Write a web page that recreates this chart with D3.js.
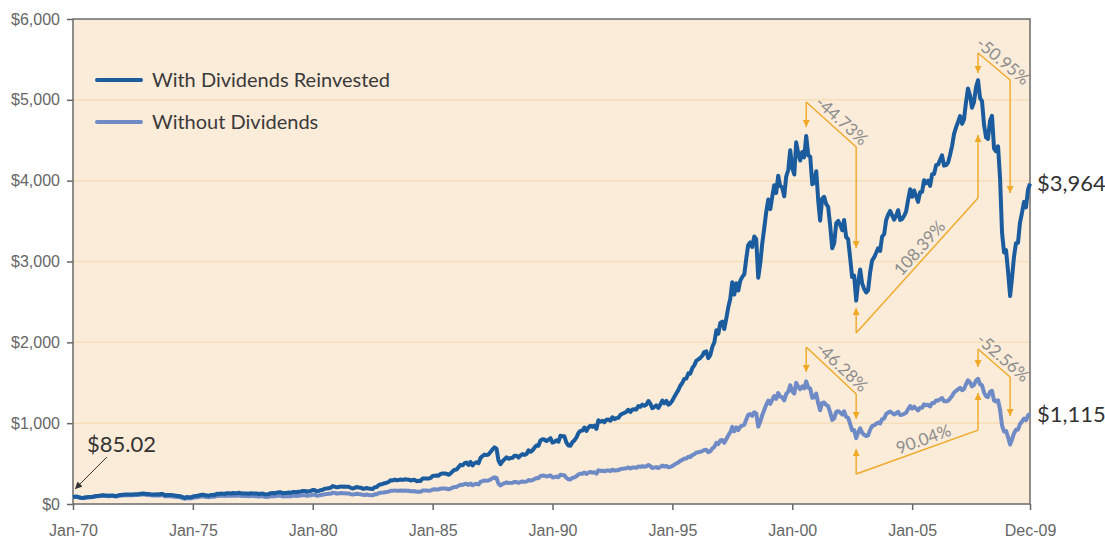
<!DOCTYPE html>
<html>
<head>
<meta charset="utf-8">
<script src="https://cdn.jsdelivr.net/npm/d3@7"></script>
<style>
  body { margin: 0; background: #fff; }
  svg { display: block; font-family: Lato, "Open Sans", sans-serif; }
  .tick text { fill: #666; font-size: 16px; }
  .tick line { stroke: #666; stroke-width: 1.5; }
</style>
</head>
<body>
<div id="chart"></div>
<script>
// month-end values, Jan-70 .. Dec-09
const withoutDividends = [
  85.02,89.50,89.63,81.52,76.55,72.72,78.05,81.52,84.21,83.25,87.20,92.15,
  95.88,96.75,100.31,103.95,99.63,99.70,95.58,99.03,98.34,94.23,93.99,102.09,
  103.94,106.57,107.20,107.67,109.53,107.14,107.39,111.09,110.55,111.58,116.67,118.05,
  116.03,111.68,111.52,106.97,104.95,104.26,108.22,104.25,108.43,108.29,95.96,97.55,
  96.57,96.22,93.98,90.31,87.28,86.00,79.31,72.15,63.54,73.90,69.97,68.56,
  76.98,81.59,83.36,87.30,91.15,95.19,88.75,86.88,83.87,89.04,91.24,90.19,
  100.86,99.71,102.77,101.64,100.18,104.28,103.44,102.91,105.24,102.90,102.10,107.46,
  102.03,99.82,98.42,98.44,96.12,100.48,98.85,96.77,96.53,92.34,94.83,95.10,
  89.25,87.04,89.21,96.83,97.24,95.53,100.68,103.29,102.54,93.15,94.70,96.11,
  99.93,96.28,101.59,101.76,99.08,102.91,103.81,109.32,109.32,101.82,106.16,107.94,
  114.16,113.66,102.09,106.29,111.24,114.24,121.67,122.38,125.46,127.47,140.52,135.76,
  129.55,131.27,136.00,132.81,132.59,131.21,130.92,122.79,116.18,121.89,126.35,122.55,
  120.40,113.11,111.96,116.44,111.88,109.61,107.09,119.51,120.42,133.71,138.54,140.64,
  145.30,148.06,152.96,164.42,162.39,168.11,162.56,164.40,166.07,163.55,166.40,164.93,
  163.41,157.06,159.18,160.05,150.55,153.18,150.66,166.68,166.10,166.09,163.58,167.24,
  179.63,181.18,180.66,179.83,189.55,191.85,190.92,188.63,182.08,189.82,202.17,211.28,
  211.78,226.92,238.90,235.52,247.35,250.84,236.12,252.93,231.32,243.98,249.22,242.17,
  274.08,284.20,291.70,288.36,290.10,304.00,318.66,329.80,321.83,251.79,230.30,247.08,
  257.07,267.82,258.89,261.33,262.16,273.50,272.02,261.52,271.91,278.97,273.70,277.72,
  297.47,288.86,294.87,309.64,320.52,317.98,346.08,351.45,349.15,340.36,345.99,353.40,
  329.08,331.89,339.94,330.80,361.23,358.02,356.15,322.56,306.05,304.00,322.22,330.22,
  343.93,367.07,375.22,375.35,389.83,371.16,387.81,395.43,387.86,392.46,375.22,417.09,
  408.79,412.70,403.69,414.95,415.35,408.14,424.21,414.03,417.80,418.68,431.35,435.71,
  438.78,443.38,451.67,440.19,450.19,450.53,448.13,463.56,458.93,467.83,461.79,466.45,
  481.61,467.14,445.77,450.91,456.50,444.27,458.26,475.49,462.69,472.35,453.69,459.27,
  470.42,487.39,500.71,514.71,533.40,544.75,562.06,561.88,584.41,581.50,605.37,615.93,
  636.02,640.43,645.50,654.17,669.12,670.63,639.95,651.99,687.31,705.27,757.02,740.74,
  786.16,790.82,757.12,801.34,848.28,885.14,954.29,899.47,947.28,914.62,955.40,970.43,
  980.28,1049.34,1101.75,1111.75,1090.82,1133.84,1120.67,957.28,1017.01,1098.67,1163.63,1229.23,
  1279.64,1238.33,1286.37,1335.18,1301.84,1372.71,1328.72,1320.41,1282.71,1362.93,1388.91,1469.25,
  1394.46,1366.42,1498.58,1452.43,1420.60,1454.60,1430.83,1517.68,1436.51,1429.40,1314.95,1320.28,
  1366.01,1239.94,1160.33,1249.46,1255.82,1224.42,1211.23,1133.58,1040.94,1059.78,1139.45,1148.08,
  1130.20,1106.73,1147.39,1076.92,1067.14,989.82,911.62,916.07,815.28,885.76,936.31,879.82,
  855.70,841.15,848.18,916.92,963.59,974.50,990.31,1008.01,995.97,1050.71,1058.20,1111.92,
  1131.13,1144.94,1126.21,1107.30,1120.68,1140.84,1101.72,1104.24,1114.58,1130.20,1173.82,1211.92,
  1181.27,1203.60,1180.59,1156.85,1191.50,1191.33,1234.18,1220.33,1228.81,1207.01,1249.48,1248.29,
  1280.08,1280.66,1294.83,1310.61,1270.09,1270.20,1276.66,1303.82,1335.85,1377.94,1400.63,1418.30,
  1438.24,1406.82,1420.86,1482.37,1530.62,1503.35,1455.27,1473.99,1526.75,1549.38,1481.14,1468.36,
  1378.55,1330.63,1322.70,1385.59,1400.38,1280.00,1267.38,1282.83,1166.36,968.75,896.24,903.25,
  825.88,735.09,797.87,872.81,919.14,919.32,987.48,1020.62,1057.08,1036.19,1095.63,1115.10
];

const withDividends = [
  85.02,90,91,83,78,74,80,84,87,86,90,96,
  100,101,105,109,105,105,101,105,105,100,100,109,
  112,115,116,117,119,117,117,121,121,123,128,130,
  128,124,124,119,117,117,122,118,123,123,109,111,
  110,111,108,104,101,100,93,85,75,87,83,82,
  92,98,100,106,111,116,108,107,103,110,113,112,
  126,125,129,128,127,132,132,131,135,132,132,139,
  132,130,129,129,127,133,131,129,129,124,128,129,
  121,119,123,134,135,133,141,145,145,132,135,137,
  143,139,147,148,145,151,153,162,162,152,159,162,
  173,173,156,163,171,176,189,191,196,200,222,215,
  206,210,218,214,215,213,214,201,191,201,210,204,
  202,190,189,198,191,188,184,207,209,233,243,248,
  257,263,272,294,291,302,294,298,302,298,305,303,
  301,291,296,299,282,288,285,316,316,317,314,322,
  347,351,352,351,372,377,377,373,362,379,404,424,
  426,458,484,478,504,512,484,520,477,504,517,503,
  571,594,611,606,611,642,675,700,685,537,493,530,
  553,578,560,568,571,598,596,575,600,617,607,618,
  664,646,662,697,723,720,786,800,797,779,794,814,
  760,769,789,770,844,839,837,760,723,720,766,787,
  823,881,904,908,946,904,947,969,954,969,929,1036,
  1018,1031,1011,1042,1045,1030,1073,1050,1062,1067,1103,1116,
  1127,1142,1166,1139,1168,1171,1168,1211,1202,1229,1216,1231,
  1274,1238,1185,1201,1219,1189,1229,1279,1247,1276,1228,1246,
  1279,1328,1367,1409,1463,1497,1548,1551,1616,1612,1682,1715,
  1774,1789,1807,1834,1880,1888,1805,1842,1945,1999,2150,2107,
  2240,2257,2164,2293,2431,2540,2744,2590,2731,2641,2763,2810,
  2843,3046,3203,3236,3179,3309,3275,2800,2979,3222,3416,3614,
  3766,3648,3795,3943,3848,4062,3936,3916,3808,4051,4132,4375,
  4157,4076,4475,4341,4250,4355,4288,4553,4314,4297,3955,3975,
  4117,3742,3505,3778,3801,3711,3675,3443,3164,3226,3472,3502,
  3452,3386,3514,3303,3278,3045,2808,2826,2516,2740,2901,2729,
  2659,2617,2643,2862,3011,3050,3105,3164,3131,3309,3337,3511,
  3578,3626,3572,3517,3565,3634,3514,3527,3566,3620,3766,3893,
  3800,3878,3810,3738,3856,3861,4006,3967,4000,3935,4080,4082,
  4192,4201,4255,4313,4186,4193,4221,4317,4431,4578,4660,4726,
  4799,4703,4757,4970,5140,5057,4903,4973,5159,5243,5021,4985,
  4690,4536,4517,4742,4802,4398,4364,4426,4031,3355,3110,3141,
  2877,2572,2790,3057,3226,3232,3479,3602,3738,3670,3888,3964
];

const seriesNames = ["With Dividends Reinvested", "Without Dividends"];
const seriesColors = ["#1b5c9e", "#6e8bc6"];
const endLabels = ["$3,964", "$1,115"];
const startLabel = "$85.02";

const yTicks = [0, 1000, 2000, 3000, 4000, 5000, 6000];
const xTickDates = ["1970-01", "1975-01", "1980-01", "1985-01", "1990-01", "1995-01", "2000-01", "2005-01", "2009-12"];
const xTickLabels = ["Jan-70", "Jan-75", "Jan-80", "Jan-85", "Jan-90", "Jan-95", "Jan-00", "Jan-05", "Dec-09"];

// drop notes: [startDate, lineTop, arrowTip, endDate, diagEnd, endArrowTip, label]
const dropNotes = [
  ["2000-08", 4973, 4664, "2002-09", 4417, 3167, "-44.73%"],
  ["2007-10", 5580, 5332, "2009-02", 5246, 3848, "-50.95%"],
  ["2000-08", 1942, 1633, "2002-09", 1361, 1052, "-46.28%"],
  ["2007-10", 1918, 1695, "2009-02", 1571, 1089, "-52.56%"]
];
// rise notes: [startDate, lineBottom, arrowTip, endDate, diagEnd, endArrowTip, label]
const riseNotes = [
  ["2002-09", 2115, 2425, "2007-10", 3786, 4565, "108.39%"],
  ["2002-09", 371, 680, "2007-10", 915, 1373, "90.04%"]
];

let margin = {top: 19, left: 73, right: 75, bottom: 35},
    width = 1105 - margin.left - margin.right,
    height = 539 - margin.top - margin.bottom;

const parseMonth = d3.timeParse("%Y-%m");
const months = d3.timeMonth.range(new Date(1970, 0, 1), new Date(2010, 0, 1));

let svg = d3.select("#chart").append("svg")
    .attr("width", 1105)
    .attr("height", 539);

let defs = svg.append("defs");
[["arrowOrange", "#f0a827", 7, 8], ["arrowBlack", "#333", 7, 8]].forEach(m => {
  defs.append("marker")
      .attr("id", m[0])
      .attr("viewBox", "0 -5 10 10")
      .attr("refX", 10)
      .attr("refY", 0)
      .attr("markerUnits", "userSpaceOnUse")
      .attr("markerWidth", m[3])
      .attr("markerHeight", m[2])
      .attr("orient", "auto")
    .append("path")
      .attr("d", "M0,-5L10,0L0,5Z")
      .attr("fill", m[1]);
});

let g = svg.append("g")
    .attr("transform", "translate(" + margin.left + "," + margin.top + ")");

let xScale = d3.scaleTime()
    .domain([months[0], months[months.length - 1]])
    .range([0, width]);

let yScale = d3.scaleLinear()
    .domain([0, 6000])
    .range([height, 0]);

// plot background
g.append("rect")
    .attr("width", width)
    .attr("height", height)
    .attr("fill", "#fbebd9");

// gridlines
g.selectAll(".grid")
  .data(yTicks.slice(1, -1))
  .enter().append("line")
    .attr("class", "grid")
    .attr("x1", 0)
    .attr("x2", width)
    .attr("y1", d => yScale(d))
    .attr("y2", d => yScale(d))
    .attr("stroke", "#f6dfba")
    .attr("stroke-width", 1.5);

// axes
let yAxis = g.append("g")
    .call(d3.axisLeft(yScale)
      .tickValues(yTicks)
      .tickSize(6)
      .tickPadding(7)
      .tickFormat(d => "$" + d3.format(",")(d)));
yAxis.select(".domain").remove();

let xAxis = g.append("g")
    .attr("transform", "translate(0," + height + ")")
    .call(d3.axisBottom(xScale)
      .tickValues(xTickDates.map(parseMonth))
      .tickSize(6)
      .tickPadding(15)
      .tickFormat((d, i) => xTickLabels[i]));
xAxis.select(".domain").remove();

// frame
g.append("rect")
    .attr("width", width)
    .attr("height", height)
    .attr("fill", "none")
    .attr("stroke", "#6b6b6b")
    .attr("stroke-width", 1.5);

// lines
let line = d3.line()
    .x((d, i) => xScale(months[i]))
    .y(d => yScale(d));

[withoutDividends, withDividends].forEach((series, k) => {
  g.append("path")
      .datum(series)
      .attr("fill", "none")
      .attr("stroke", seriesColors[1 - k])
      .attr("stroke-width", 4)
      .attr("stroke-linejoin", "round")
      .attr("d", line);
});

// percentage notes
let notes = g.append("g")
    .attr("stroke", "#f0a827")
    .attr("stroke-width", 1.4)
    .attr("fill", "none");

function noteLabel(p0, p1, label, t) {
  let angle = Math.atan2(p1[1] - p0[1], p1[0] - p0[0]) * 180 / Math.PI;
  let px = p0[0] + (p1[0] - p0[0]) * t,
      py = p0[1] + (p1[1] - p0[1]) * t;
  g.append("text")
      .attr("transform", "translate(" + px + "," + py + ") rotate(" + angle + ")")
      .attr("y", -4)
      .attr("text-anchor", "middle")
      .attr("fill", "#8d8d8d")
      .style("font-size", "17px")
      .text(label);
}

dropNotes.concat(riseNotes).forEach(n => {
  let xa = xScale(parseMonth(n[0])), xb = xScale(parseMonth(n[3]));
  let a0 = [xa, yScale(n[1])], a1 = [xa, yScale(n[2])],
      b0 = [xb, yScale(n[4])], b1 = [xb, yScale(n[5])];
  notes.append("line")
      .attr("x1", a0[0]).attr("y1", a0[1])
      .attr("x2", a1[0]).attr("y2", a1[1])
      .attr("marker-end", "url(#arrowOrange)");
  notes.append("line")
      .attr("x1", a0[0]).attr("y1", a0[1])
      .attr("x2", b0[0]).attr("y2", b0[1]);
  notes.append("line")
      .attr("x1", b0[0]).attr("y1", b0[1])
      .attr("x2", b1[0]).attr("y2", b1[1])
      .attr("marker-end", "url(#arrowOrange)");
  noteLabel(a0, b0, n[6], 0.58);
});

// end labels
[withDividends, withoutDividends].forEach((series, k) => {
  svg.append("text")
      .attr("x", margin.left + width + 7)
      .attr("y", margin.top + yScale(series[series.length - 1]))
      .attr("dy", "0.36em")
      .attr("fill", "#333")
      .style("font-size", "22px")
      .text(endLabels[k]);
});

// start label with arrow
g.append("line")
    .attr("x1", xScale(parseMonth("1971-06")))
    .attr("y1", yScale(581))
    .attr("x2", xScale(parseMonth("1970-02")))
    .attr("y2", yScale(186))
    .attr("stroke", "#333")
    .attr("stroke-width", 1)
    .attr("marker-end", "url(#arrowBlack)");

g.append("text")
    .attr("x", xScale(parseMonth("1970-08")))
    .attr("y", yScale(643))
    .attr("fill", "#333")
    .style("font-size", "22px")
    .text(startLabel);

// legend
let legend = g.selectAll(".legend")
  .data(seriesNames)
  .enter().append("g")
    .attr("class", "legend")
    .attr("transform", (d, i) => "translate(24," + (61 + i * 42) + ")");

legend.append("line")
    .attr("x1", 0)
    .attr("x2", 44)
    .attr("stroke", (d, i) => seriesColors[i])
    .attr("stroke-width", 4)
    .attr("stroke-linecap", "round");

legend.append("text")
    .attr("x", 55)
    .attr("dy", "0.35em")
    .attr("fill", "#3a3a3a")
    .style("font-size", "20px")
    .text(d => d);
</script>
</body>
</html>
